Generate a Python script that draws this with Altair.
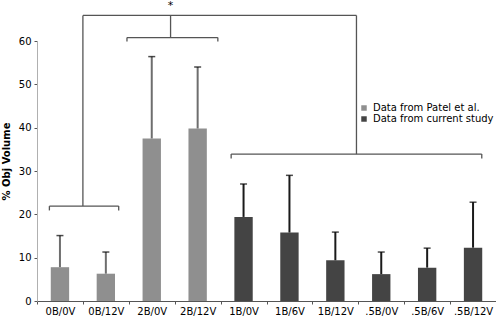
import altair as alt
import pandas as pd

# ---- data ----
categories = ["0B/0V", "0B/12V", "2B/0V", "2B/12V", "1B/0V", "1B/6V", "1B/12V", ".5B/0V", ".5B/6V", ".5B/12V"]
means = [7.8, 6.3, 37.5, 39.8, 19.4, 15.8, 9.4, 6.2, 7.7, 12.3]
upper = [15.1, 11.3, 56.4, 54.0, 27.0, 29.0, 15.9, 11.3, 12.2, 22.8]
sources = ["Data from Patel et al."] * 4 + ["Data from current study"] * 6
source_order = ["Data from Patel et al.", "Data from current study"]
source_colors = ["#8f8f8f", "#444444"]
err_colors = ["#6e6e6e", "#1a1a1a"]

# significance brackets, in category-index units (x) and % units (y)
h_x1 = [0.27, 1.96, 4.23, 1.0]
h_x2 = [1.78, 3.94, 9.69, 6.96]
h_y = [21.9, 60.8, 33.9, 65.9]
v_x = [0.27, 1.78, 1.96, 3.94, 4.23, 9.69, 1.0, 2.91, 6.96]
v_y1 = [20.9, 20.9, 59.9, 59.9, 32.9, 32.9, 21.9, 60.8, 33.9]
v_y2 = [21.9, 21.9, 60.8, 60.8, 33.9, 33.9, 65.9, 65.9, 65.9]
star_x = [2.91]
star_y = [68.0]
star_text = ["*"]

bars_df = pd.DataFrame({"category": categories, "mean": means, "upper": upper, "source": sources})
h_df = pd.DataFrame({"x1": h_x1, "x2": h_x2, "y": h_y})
v_df = pd.DataFrame({"x": v_x, "y1": v_y1, "y2": v_y2})
star_df = pd.DataFrame({"x": star_x, "y": star_y, "t": star_text})

yscale = alt.Scale(domain=[0, 60], nice=False, zero=True)
yaxis = alt.Axis(
    title="% Obj Volume", values=[0, 10, 20, 30, 40, 50, 60], grid=False,
    domainColor="#b0b0b0", tickColor="#555555", tickSize=3, labelPadding=3,
    labelFontSize=10, labelColor="#000000", titleFontSize=10, titleFontWeight="bold",
    titleColor="#000000", titleX=-31, titleY=120, titleAngle=-90, titleBaseline="middle",
)

xenc = alt.X(
    "category:N", sort=categories,
    scale=alt.Scale(paddingInner=0, paddingOuter=0),
    axis=alt.Axis(
        title=None, labelAngle=0, tickBand="extent", tickSize=3, tickColor="#555555",
        domainColor="#555555", labelFontSize=10, labelColor="#000000", labelPadding=2,
    ),
)

base = alt.Chart(bars_df)

bars = base.mark_bar(width={"band": 0.4}).encode(
    x=xenc,
    y=alt.Y("mean:Q", scale=yscale, axis=yaxis),
    color=alt.Color(
        "source:N",
        scale=alt.Scale(domain=source_order, range=source_colors),
        legend=alt.Legend(
            title=None, orient="none", legendX=322, legendY=62, symbolType="square",
            symbolSize=30, symbolStrokeWidth=0, labelFontSize=10, labelColor="#000000",
            labelOffset=4, rowPadding=1, padding=0,
        ),
    ),
)

err = base.mark_rule(strokeWidth=2).encode(
    x=alt.X("category:N", sort=categories),
    y="mean:Q",
    y2="upper:Q",
    stroke=alt.Stroke("source:N", scale=alt.Scale(domain=source_order, range=err_colors), legend=None),
)

caps = base.mark_tick(color="#000000", size=7, thickness=1.5).encode(
    x=alt.X("category:N", sort=categories),
    y="upper:Q",
)

main = alt.layer(bars, err, caps)

xq = alt.Scale(domain=[0, 10], nice=False, zero=False)

hlines = alt.Chart(h_df).mark_rule(color="#555555", strokeWidth=1.3).encode(
    x=alt.X("x1:Q", scale=xq, axis=None),
    x2="x2:Q",
    y=alt.Y("y:Q", scale=yscale),
)
vlines = alt.Chart(v_df).mark_rule(color="#555555", strokeWidth=1.3).encode(
    x=alt.X("x:Q", scale=xq, axis=None),
    y=alt.Y("y1:Q", scale=yscale),
    y2="y2:Q",
)
star = alt.Chart(star_df).mark_text(fontSize=11, color="#000000", baseline="middle").encode(
    x=alt.X("x:Q", scale=xq, axis=None),
    y=alt.Y("y:Q", scale=yscale),
    text="t:N",
)
ann = alt.layer(hlines, vlines, star)

chart = alt.layer(main, ann).resolve_scale(x="independent").properties(
    width=459,
    height=260,
    autosize=alt.AutoSizeParams(type="none"),
    padding={"left": 37, "top": 41, "right": 0, "bottom": 18},
).configure(font="DejaVu Sans").configure_view(stroke=None)

chart.save("out.html", embed_options={"renderer": "svg", "actions": False})
